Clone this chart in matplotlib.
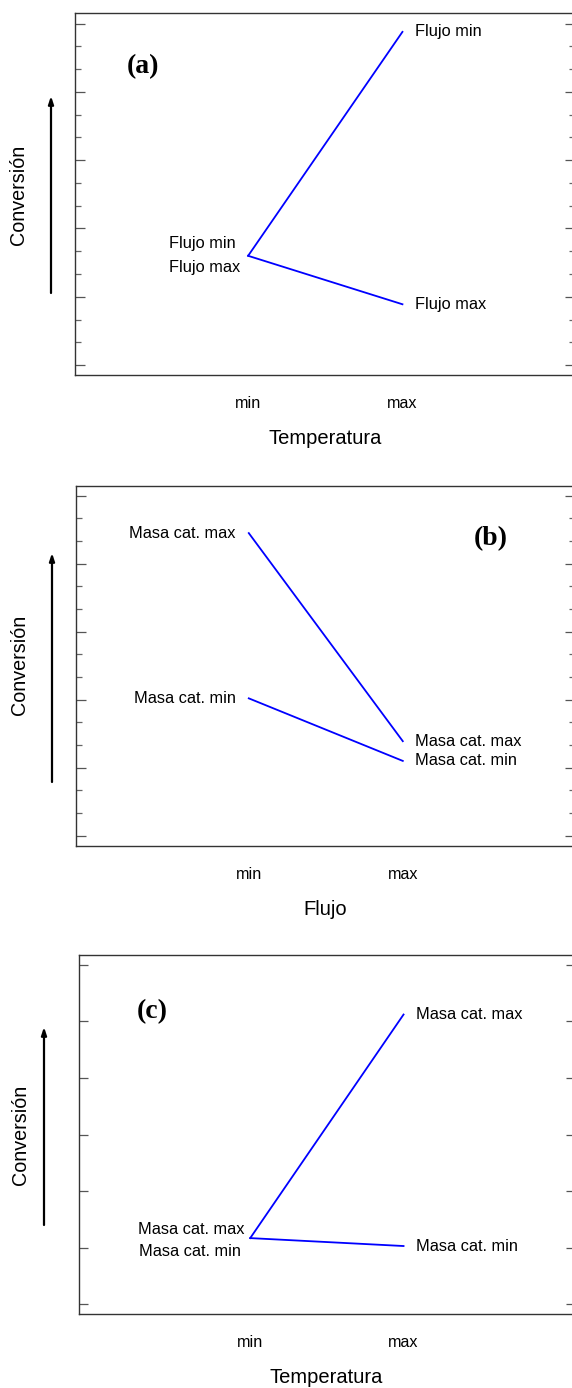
import matplotlib.pyplot as plt
from matplotlib.ticker import MultipleLocator

plt.rcParams['font.family'] = ['Liberation Sans', 'DejaVu Sans']

# niveles del factor en el eje x
niveles = ['min', 'max']

# (a) Conversion vs Temperatura, para cada nivel de flujo
a_flujo_min = [1.60, 4.88]
a_flujo_max = [1.60, 0.89]

# (b) Conversion vs Flujo, para cada nivel de masa de catalizador
b_masa_max = [4.45, 1.39]
b_masa_min = [2.02, 1.10]

# (c) Conversion vs Temperatura, para cada nivel de masa de catalizador
c_masa_max = [1.17, 5.12]
c_masa_min = [1.17, 1.03]

W, H = 572, 1388
fig = plt.figure(figsize=(W / 100, H / 100), dpi=100)


def px_axes(left, top, right, bottom):
    return fig.add_axes([left / W, 1 - bottom / H, (right - left) / W, (bottom - top) / H])


def frame(ax, ylim, minor, xlabel):
    ax.set_xlim(-1.12, 2.115)
    ax.set_ylim(*ylim)
    ax.set_xticks([0, 1])
    ax.set_xticklabels(niveles, fontsize=11.6)
    ax.tick_params(axis='x', length=0, pad=15)
    ax.yaxis.set_major_locator(MultipleLocator(1))
    if minor:
        ax.yaxis.set_minor_locator(MultipleLocator(1 / 3))
    ax.tick_params(axis='y', which='major', direction='in', left=True, right=True,
                   labelleft=False, length=7.5, width=0.9, color='#555555')
    ax.tick_params(axis='y', which='minor', direction='in', left=True, right=True,
                   length=4, width=0.9, color='#666666')
    for s in ax.spines.values():
        s.set_color('#333333')
        s.set_linewidth(1.0)
    ax.set_xlabel(xlabel, fontsize=14.5, labelpad=13)


def side(ax, y_c, x_arrow, y0, y1, x_lab):
    fig.text(x_lab / W, 1 - y_c / H, 'Conversión', rotation=90, ha='center', va='center',
             fontsize=14.2)
    ax.annotate('', xy=(x_arrow, H - y1), xytext=(x_arrow, H - y0),
                xycoords='figure pixels', textcoords='figure pixels',
                arrowprops=dict(arrowstyle='-|>,head_length=0.45,head_width=0.15',
                                color='black', lw=1.6, shrinkA=0, shrinkB=0))


blue = '#0000ff'
lw = 1.3
fs = 11.8
tfs = dict(fontsize=20, fontweight='bold', family='Liberation Serif')

# ----- (a)
ax1 = px_axes(75.3, 13.3, 574.5, 375)
ax1.plot([0, 1], a_flujo_min, color=blue, lw=lw)
ax1.plot([0, 1], a_flujo_max, color=blue, lw=lw)
frame(ax1, (-0.146, 5.152), True, 'Temperatura')
ax1.text(1.08, a_flujo_min[1], 'Flujo min', ha='left', va='center', fontsize=fs)
ax1.text(1.08, a_flujo_max[1], 'Flujo max', ha='left', va='center', fontsize=fs)
ax1.text(-0.08, a_flujo_min[0] + 0.18, 'Flujo min', ha='right', va='center', fontsize=fs)
ax1.text(-0.05, a_flujo_max[0] - 0.17, 'Flujo max', ha='right', va='center', fontsize=fs)
ax1.text(-0.68, 4.37, '(a)', ha='center', va='center', **tfs)
side(ax1, 195, 51, 293, 96, 19)

# ----- (b)
ax2 = px_axes(76.3, 485.7, 574.5, 845.7)
ax2.plot([0, 1], b_masa_max, color=blue, lw=lw)
ax2.plot([0, 1], b_masa_min, color=blue, lw=lw)
frame(ax2, (-0.147, 5.147), True, 'Flujo')
ax2.text(-0.085, b_masa_max[0], 'Masa cat. max', ha='right', va='center', fontsize=fs)
ax2.text(-0.085, b_masa_min[0], 'Masa cat. min', ha='right', va='center', fontsize=fs)
ax2.text(1.08, b_masa_max[1], 'Masa cat. max', ha='left', va='center', fontsize=fs)
ax2.text(1.08, b_masa_min[1], 'Masa cat. min', ha='left', va='center', fontsize=fs)
ax2.text(1.57, 4.37, '(b)', ha='center', va='center', **tfs)
side(ax2, 665, 52, 782, 553, 20)

# ----- (c)
ax3 = px_axes(78.5, 954.7, 574.5, 1314)
ax3.plot([0, 1], c_masa_max, color=blue, lw=lw)
ax3.plot([0, 1], c_masa_min, color=blue, lw=lw)
frame(ax3, (-0.171, 6.177), False, 'Temperatura')
ax3.tick_params(axis='y', which='major', length=6.5)
ax3.text(-0.04, c_masa_max[0] + 0.15, 'Masa cat. max', ha='right', va='center', fontsize=fs)
ax3.text(-0.06, c_masa_min[0] - 0.23, 'Masa cat. min', ha='right', va='center', fontsize=fs)
ax3.text(1.08, c_masa_max[1], 'Masa cat. max', ha='left', va='center', fontsize=fs)
ax3.text(1.08, c_masa_min[1], 'Masa cat. min', ha='left', va='center', fontsize=fs)
ax3.text(-0.64, 5.18, '(c)', ha='center', va='center', **tfs)
side(ax3, 1135, 44, 1225, 1027, 21)

fig.savefig('out.png', dpi=100)
